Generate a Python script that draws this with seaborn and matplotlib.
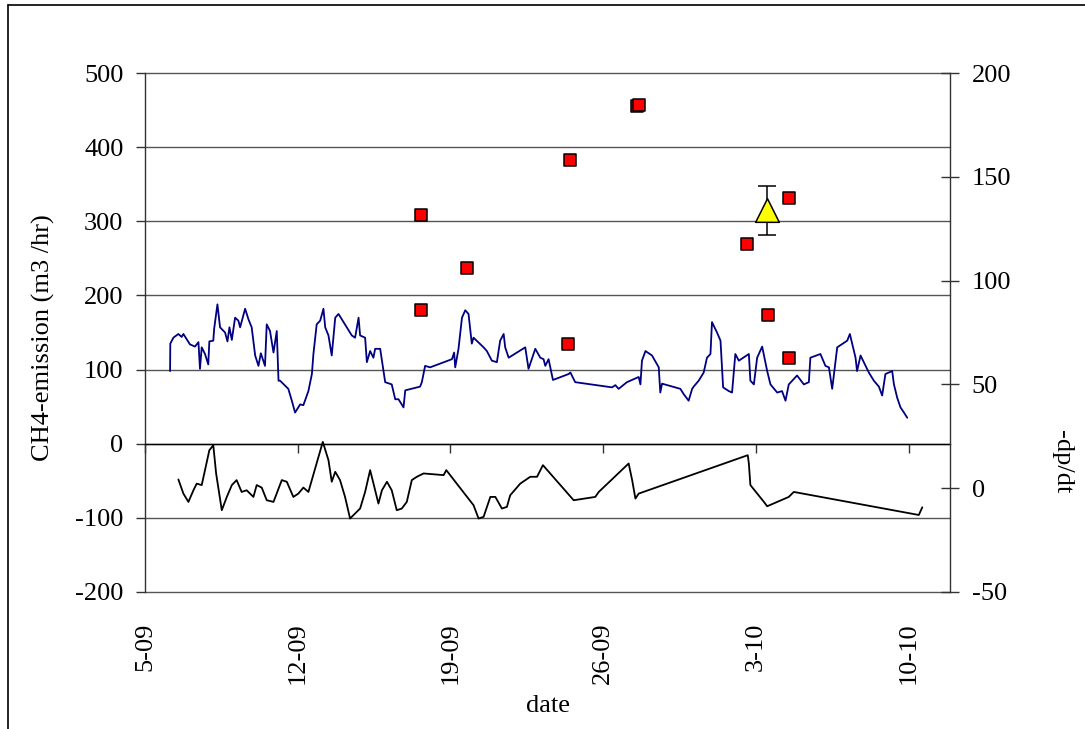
import numpy as np
import pandas as pd
import matplotlib
matplotlib.use("Agg")
import matplotlib.pyplot as plt
from matplotlib.lines import Line2D
import seaborn as sns

# ---------------- data (x = days since 5 Sep) ----------------
tick_days = [0, 7, 14, 21, 28, 35]
tick_labels = ["5-09", "12-09", "19-09", "26-09", "3-10", "10-10"]

blue_day = [1.15, 1.16, 1.30, 1.53, 1.68, 1.76, 2.06, 2.29, 2.45, 2.52, 2.60, 2.75, 2.90, 2.95,
            3.13, 3.17, 3.32, 3.44, 3.67, 3.78, 3.87, 3.98, 4.13, 4.28, 4.36, 4.59, 4.74, 4.89,
            5.05, 5.20, 5.31, 5.50, 5.58, 5.73, 5.89, 6.04, 6.12, 6.19, 6.57, 6.73, 6.88, 7.11,
            7.26, 7.49, 7.65, 7.72, 7.87, 8.03, 8.18, 8.26, 8.41, 8.56, 8.72, 8.87, 9.10, 9.48,
            9.63, 9.79, 9.86, 10.09, 10.17, 10.32, 10.47, 10.55, 10.78, 10.86, 11.01, 11.31,
            11.47, 11.62, 11.85, 11.93, 12.61, 12.69, 12.84, 13.07, 14.07, 14.17, 14.22, 14.37,
            14.53, 14.68, 14.83, 14.98, 15.06, 15.52, 15.67, 15.90, 16.13, 16.28, 16.44, 16.51,
            16.67, 17.43, 17.58, 17.89, 18.12, 18.27, 18.35, 18.50, 18.70, 19.42, 19.50, 19.72,
            21.41, 21.56, 21.71, 22.09, 22.63, 22.71, 22.78, 22.94, 23.24, 23.55, 23.62, 23.70,
            24.54, 24.69, 24.92, 25.08, 25.15, 25.38, 25.61, 25.76, 25.92, 25.99, 26.22, 26.38,
            26.50, 26.76, 26.91, 27.06, 27.22, 27.68, 27.75, 27.91, 28.06, 28.29, 28.52, 28.67,
            28.98, 29.20, 29.36, 29.51, 29.89, 30.20, 30.43, 30.50, 30.96, 31.19, 31.35, 31.50,
            31.73, 32.19, 32.31, 32.57, 32.64, 32.80, 33.18, 33.41, 33.64, 33.79, 33.94, 34.25,
            34.33, 34.48, 34.63, 34.79, 34.94]
blue_val = [98, 135, 143, 148, 144, 148, 134, 131, 137, 101, 130, 121, 107, 138,
            139, 155, 188, 157, 150, 138, 157, 140, 170, 166, 157, 182, 168, 157,
            119, 105, 122, 105, 161, 152, 123, 152, 85, 85, 74, 58, 42, 53,
            52, 71, 94, 121, 161, 166, 182, 157, 146, 119, 170, 175, 164, 146,
            143, 170, 146, 143, 110, 125, 116, 128, 128, 112, 83, 80,
            60, 60, 49, 72, 77, 83, 105, 103, 114, 123, 103, 128,
            170, 180, 175, 135, 143, 130, 125, 112, 110, 139, 148, 130,
            116, 130, 101, 128, 116, 114, 105, 114, 86, 94, 96, 83,
            76, 79, 74, 83, 90, 80, 112, 125, 119, 103, 69, 81,
            74, 67, 58, 74, 77, 85, 96, 116, 121, 164, 150, 139,
            76, 71, 69, 121, 112, 121, 85, 80, 116, 131, 98, 80,
            69, 71, 58, 80, 92, 80, 83, 116, 121, 105, 103, 74,
            130, 139, 148, 116, 98, 119, 96, 85, 77, 65, 94, 98,
            80, 62, 49, 42, 35]

black_day = [1.53, 1.76, 1.99, 2.22, 2.37, 2.60, 2.75, 2.95, 3.13, 3.26, 3.52, 3.75, 3.98, 4.20,
             4.43, 4.66, 4.97, 5.12, 5.35, 5.58, 5.89, 6.27, 6.50, 6.80, 7.03, 7.26, 7.49, 8.15,
             8.41, 8.56, 8.72, 8.94, 9.17, 9.40, 9.63, 9.86, 10.09, 10.32, 10.55, 10.70, 10.86,
             11.09, 11.31, 11.54, 11.77, 12.00, 12.23, 12.46, 12.77, 13.69, 13.81, 15.06, 15.29,
             15.52, 15.83, 16.06, 16.36, 16.59, 16.74, 17.20, 17.66, 17.97, 18.24, 19.65, 20.64,
             20.80, 22.17, 22.33, 22.48, 22.63, 27.63, 27.68, 27.75, 28.37, 28.52, 29.51, 29.74,
             35.47, 35.63]
black_val = [4.2, -2.6, -6.6, -1.0, 2.2, 1.5, 8.7, 18.3, 20.7, 7.1, -10.6, -4.2, 1.5, 3.9,
             -1.8, -1.0, -4.2, 1.5, 0.3, -5.8, -6.6, 3.9, 3.1, -4.2, -2.6, 0.3, -1.8, 22.3,
             13.5, 3.1, 7.9, 3.9, -4.2, -14.6, -12.2, -9.8, -1.8, 8.7, -1.0, -7.4, -1.0,
             3.1, -1.0, -10.6, -9.8, -6.6, 3.9, 5.5, 7.1, 6.3, 8.7, -8.2, -14.6,
             -13.8, -4.2, -4.2, -9.8, -9.0, -3.4, 2.2, 5.5, 5.5, 11.1, -5.8, -4.2,
             -1.8, 11.9, 3.9, -5.0, -2.6, 15.9, 11.9, 1.5, -6.6, -8.7, -4.2, -1.8,
             -12.9, -9.2]

ch4_day = [12.66, 12.66, 14.77, 19.50, 19.40, 22.57, 22.66, 27.61, 28.58, 29.54, 29.54]
ch4_val = [309, 181, 237, 382, 134, 455, 457, 270, 174, 331, 116]

tri_day = [28.53]
tri_val = [315]
tri_err = [33]

# ---------------- styling ----------------
sns.set_theme(style="white")
plt.rcParams["font.family"] = ["Liberation Serif", "DejaVu Serif"]
plt.rcParams["font.size"] = 19
plt.rcParams["axes.unicode_minus"] = False
for k in ["text.color", "axes.labelcolor", "xtick.color", "ytick.color"]:
    plt.rcParams[k] = "black"

W, H = 1085, 729
fig = plt.figure(figsize=(W / 100, H / 100), dpi=100)
ax = fig.add_axes([145 / W, 1 - 592 / H, (950 - 145) / W, (592 - 73) / H])
ax2 = ax.twinx()

# lines
sns.lineplot(x=blue_day, y=blue_val, ax=ax, color="#000080", lw=1.3,
             estimator=None, sort=False, legend=False)
sns.lineplot(x=black_day, y=black_val, ax=ax2, color="black", lw=1.3,
             estimator=None, sort=False, legend=False)

# markers
sns.scatterplot(x=ch4_day, y=ch4_val, ax=ax, marker="s", s=72, color="#ff0000",
                edgecolor="black", linewidth=1.1, zorder=5, legend=False)
ax.errorbar(tri_day, tri_val, yerr=tri_err, fmt="none", ecolor="black",
            elinewidth=1.1, capsize=6.5, capthick=1.1, zorder=5)
sns.scatterplot(x=tri_day, y=tri_val, ax=ax, marker="^", s=290, color="#ffff00",
                edgecolor="black", linewidth=1.1, zorder=6, legend=False)

# axes limits / ticks
ax.set_xlim(0, 36.9)
ax.set_ylim(-200, 500)
ax.set_yticks(np.arange(-200, 501, 100))
ax2.set_ylim(-50, 200)
ax2.set_yticks(np.arange(-50, 201, 50))

ax.yaxis.grid(True, color="#555555", lw=1.0)
for gl in ax.get_ygridlines():
    gl.set_clip_on(False)
ax.xaxis.grid(False)
ax2.grid(False)

for sp in ["top", "right"]:
    ax.spines[sp].set_visible(False)
for sp in ["top", "left", "bottom"]:
    ax2.spines[sp].set_visible(False)
ax.spines["left"].set_color("#333333")
ax.spines["left"].set_linewidth(1.0)
ax2.spines["right"].set_color("#333333")
ax2.spines["right"].set_linewidth(1.0)

# x axis line at y=0 with ticks, labels at plot bottom
ax.spines["bottom"].set_position(("data", 0))
ax.spines["bottom"].set_color("black")
ax.spines["bottom"].set_linewidth(1.0)
ax.set_xticks(tick_days)
ax.tick_params(axis="x", direction="out", length=6.5, width=1, color="#333333",
               labelbottom=False, bottom=True)
ax.tick_params(axis="y", direction="out", length=6.5, width=1, color="#333333",
               pad=9, left=True, labelsize=19)
ax2.tick_params(axis="y", direction="inout", length=13, width=1, color="#333333",
                pad=9, right=True, labelsize=19)

sec = ax.secondary_xaxis(0)
sec.set_xticks(tick_days)
sec.set_xticklabels(tick_labels, rotation=90)
sec.tick_params(length=0, pad=22, labelsize=19)
sec.spines["bottom"].set_visible(False)

# labels
fig.text(43 / W, 1 - 338 / H, "CH4-emission (m3 /hr)", rotation=90,
         ha="center", va="center", fontsize=19)
fig.text(1062 / W, 1 - 462 / H, "-dp/dt", rotation=270,
         ha="center", va="center", fontsize=19)
fig.text(548 / W, 1 - 706 / H, "date", ha="center", va="center", fontsize=19)

ax.set_xlabel("")
ax.set_ylabel("")
ax2.set_ylabel("")

# figure border (left and top)
fig.add_artist(Line2D([8 / W, 8 / W], [0, 1 - 5 / H], color="black", lw=1.2,
                      transform=fig.transFigure))
fig.add_artist(Line2D([8 / W, 1], [1 - 5 / H, 1 - 5 / H], color="black", lw=1.2,
                      transform=fig.transFigure))

fig.savefig("out.png", dpi=100)
